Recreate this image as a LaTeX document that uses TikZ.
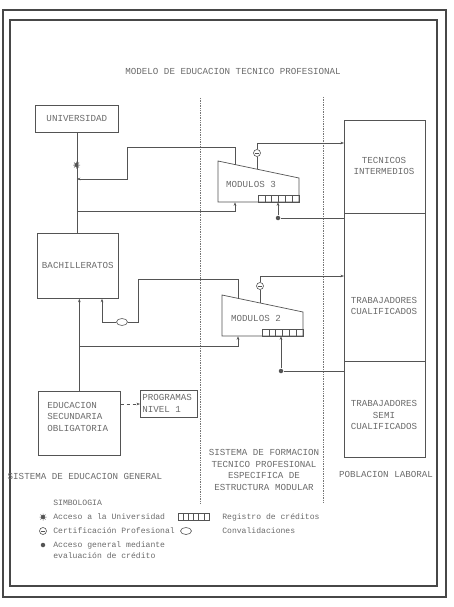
\documentclass[tikz,border=0pt]{standalone}
\usepackage{fontspec}
\setmonofont{Liberation Mono}
\usetikzlibrary{arrows.meta,shapes.geometric}
\definecolor{ink}{gray}{0.33}
\definecolor{txt}{gray}{0.42}
\definecolor{frame}{gray}{0.28}
\begin{document}
\begin{tikzpicture}[x=1pt,y=-1pt,
  line width=0.6pt, draw=ink,
  lbl/.style={font=\ttfamily\fontsize{9.2}{11.5}\selectfont, text=txt, inner sep=0pt, align=center},
  leg/.style={font=\ttfamily\fontsize{8.1}{10.5}\selectfont, text=txt, inner sep=0pt, anchor=west},
  box/.style={draw=ink, line width=0.7pt, rectangle, inner sep=0pt, anchor=north west},
  arr/.style={-{Stealth[length=3.5pt,width=2.6pt]}},
  sep/.style={densely dotted, line width=0.7pt, draw=ink!80},
  certc/.style={circle, draw=ink, line width=0.6pt, minimum size=7pt, inner sep=0pt},
  convo/.style={ellipse, draw=ink, line width=0.6pt, minimum width=11pt, minimum height=7pt, inner sep=0pt},
  dotn/.style={circle, fill=ink, minimum size=4.5pt, inner sep=0pt},
  starn/.style={circle, fill=ink, minimum size=4pt, inner sep=0pt}
]
\useasboundingbox (0,0) rectangle (454,607);
\fill[white] (0,0) rectangle (454,607);

% frames
\draw[frame, line width=1.1pt] (3,10) rectangle (446,597);
\draw[frame, line width=1.5pt] (10,20) rectangle (437,586);

% title
\node[lbl] (title) at (233,71) {MODELO DE EDUCACION TECNICO PROFESIONAL};

% column separators
\draw[sep] (200,98) -- (200,503);
\draw[sep] (323,97) -- (323,503);

% left column boxes
\node[box, minimum width=83pt, minimum height=27pt] (univ) at (35,105) {};
\node[lbl] (univt) at (univ.center) {UNIVERSIDAD};
\node[box, minimum width=81pt, minimum height=65pt] (bach) at (37,233) {};
\node[lbl] (bacht) at (bach.center) {BACHILLERATOS};
\node[box, minimum width=82pt, minimum height=64pt] (eso) at (38,391) {};
\node[lbl, align=left, anchor=north west] (esot) at (47,402) {EDUCACION\\SECUNDARIA\\OBLIGATORIA};
\node[box, minimum width=57pt, minimum height=27pt] (prog) at (140,390) {};
\node[lbl, align=left, anchor=west] (progt) at (142,403.5) {PROGRAMAS\\NIVEL 1};

% right column boxes
\node[box, minimum width=81pt, minimum height=93pt] (tec) at (344,120) {};
\node[lbl] (tect) at (384,166) {TECNICOS\\INTERMEDIOS};
\node[box, minimum width=81pt, minimum height=148pt] (trab) at (344,213) {};
\node[lbl] (trabt) at (384,306) {TRABAJADORES\\CUALIFICADOS};
\node[box, minimum width=81pt, minimum height=96pt] (semi) at (344,361) {};
\node[lbl] (semit) at (384,415) {TRABAJADORES\\SEMI\\CUALIFICADOS};

% module 3
\draw[line width=0.7pt] (218,161) -- (299,178) -- (299,202) -- (218,202) -- cycle;
\node[lbl] (m3) at (251,184) {MODULOS 3};
\draw (258,195) rectangle (299,202);
\foreach \i in {1,...,5} \draw ({258+\i*41/6},195) -- ++(0,7);
\node[certc] (c3) at (257,153) {};
\draw ([xshift=-1.6pt]c3.center) -- ([xshift=1.6pt]c3.center);
\draw (257,169.2) -- (c3.south);
\draw[arr] (c3.north) |- (tec.west |- 0,143);
\node[dotn] (d3) at (278,218) {};
\draw[arr] (d3) -- (278,202.3);
\draw (d3) -- (tec.west |- d3);

% module 2
\draw[line width=0.7pt] (222,295) -- (303,312) -- (303,336) -- (222,336) -- cycle;
\node[lbl] (m2) at (256,318) {MODULOS 2};
\draw (262,329) rectangle (303,336);
\foreach \i in {1,...,5} \draw ({262+\i*41/6},329) -- ++(0,7);
\node[certc] (c2) at (260,286) {};
\draw ([xshift=-1.6pt]c2.center) -- ([xshift=1.6pt]c2.center);
\draw (260,303) -- (c2.south);
\draw[arr] (c2.north) |- (trab.west |- 0,276);
\node[dotn] (d2) at (281,371) {};
\draw[arr] (d2) -- (281,336.3);
\draw (d2) -- (semi.west |- d2);

% trunk to universidad
\draw (univ.south) -- (univ.south |- bach.north);
\node[starn] (st) at (76.5,165) {};
\draw[line width=0.5pt] (73,165) -- (80,165) (76.5,161.5) -- (76.5,168.5) (74,162.5) -- (79,167.5) (74,167.5) -- (79,162.5);
\draw[arr] (235,164.6) -- (235,147) -- (127,147) -- (127,179) -- (univ.south |- 0,179);
\draw[arr] (univ.south |- 0,211) -- (235,211) -- (235,202.3);

% trunk eso -> bachilleratos
\draw[arr] (eso.north) -- (eso.north |- bach.south);
\draw[arr] (eso.north |- 0,346) -- (238,346) -- (238,336.3);

% convalidacion path
\node[convo] (ov) at (122,322) {};
\draw (238,298.6) -- (238,279) -- (138,279) -- (138,322) -- (ov.east);
\draw[arr] (ov.west) -- (102,322) -- (bach.south -| 102,0);

% programas
\draw[arr, dashed] (eso.east |- 0,404) -- (prog.west |- 0,404);

% column labels
\node[lbl] (col1) at (85,476) {SISTEMA DE EDUCACION GENERAL};
\node[lbl] (col2) at (264,470) {SISTEMA DE FORMACION\\TECNICO PROFESIONAL\\ESPECIFICA DE\\ESTRUCTURA MODULAR};
\node[lbl] (col3) at (386,474) {POBLACION LABORAL};

% legend
\node[leg] (simb) at (53,503) {SIMBOLOGIA};
\node[starn] (ls) at (43,517) {};
\draw[line width=0.5pt] (39.5,517) -- (46.5,517) (43,513.5) -- (43,520.5) (40.5,514.5) -- (45.5,519.5) (40.5,519.5) -- (45.5,514.5);
\node[leg] (l1) at (53,517) {Acceso a la Universidad};
\draw (178,513.5) rectangle (209,520.5);
\foreach \i in {1,...,5} \draw ({178+\i*31/6},513.5) -- ++(0,7);
\node[leg] (l2) at (222,517) {Registro de créditos};
\node[certc] (lc) at (43,531) {};
\draw ([xshift=-1.6pt]lc.center) -- ([xshift=1.6pt]lc.center);
\node[leg] (l3) at (53,531) {Certificación Profesional};
\node[convo] (lo) at (186,531) {};
\node[leg] (l4) at (222,531) {Convalidaciones};
\node[dotn] (ld) at (43,545) {};
\node[leg] (l5) at (53,545) {Acceso general mediante};
\node[leg] (l6) at (53,556) {evaluación de crédito};
\end{tikzpicture}
\end{document}
